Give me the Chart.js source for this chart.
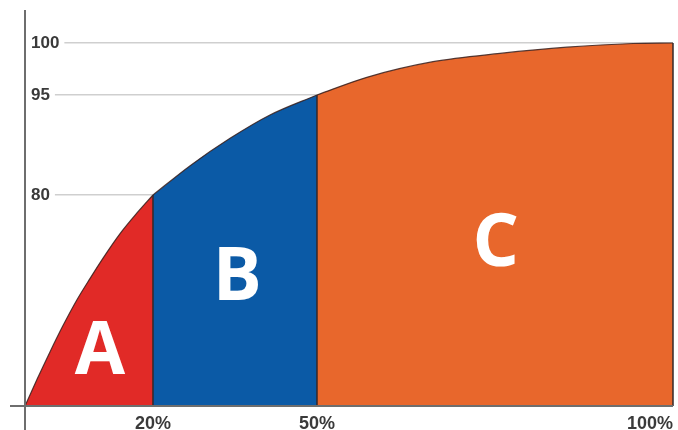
<!DOCTYPE html>
<html>
<head>
<meta charset="utf-8">
<script src="https://cdn.jsdelivr.net/npm/chart.js@4.4.1/dist/chart.umd.min.js"></script>
<style>
  html, body { margin: 0; padding: 0; background: #fff; }
  #wrap { width: 678px; height: 430px; }
</style>
</head>
<body>
<div id="wrap"><canvas id="abc"></canvas></div>
<script>
// curva ABC: % dos itens (x) vs % acumulado do valor (y)
const aX = [0, 1.9, 3.9, 5.9, 8.1, 10.2, 12.2, 14.8, 17.5, 20];
const aY = [0, 10.2, 20.5, 30.3, 40.2, 48.5, 56.1, 65.2, 73.2, 80];
const bX = [20, 26.8, 34.1, 41.4, 50];
const bY = [80, 84.4, 88.5, 92, 95];
const cX = [50, 57, 66.3, 75.7, 85.1, 94.4, 100];
const cY = [95, 96.7, 98.2, 99, 99.6, 99.95, 100];

const xTicks = [0, 20, 50, 100];
const yTicks = [80, 95, 100];
const classes = ['A', 'B', 'C'];

// o desenho original não tem eixos lineares: escala por trechos
const X_BREAKS = [[0, 0], [20, 0.1975], [50, 0.4506], [100, 1]];
const Y_BREAKS = [[0, 0], [80, 0.5328], [95, 0.7854], [100, 0.9167], [103.2, 1]];

class PiecewiseScale extends Chart.LinearScale {
  breaks() { return this.axis === 'x' ? X_BREAKS : Y_BREAKS; }
  getPixelForValue(value) {
    if (value === null || value === undefined || isNaN(value)) return NaN;
    const b = this.breaks();
    let i = 1;
    while (i < b.length - 1 && value > b[i][0]) i++;
    const [v0, f0] = b[i - 1], [v1, f1] = b[i];
    return this.getPixelForDecimal(f0 + (value - v0) / (v1 - v0) * (f1 - f0));
  }
  getValueForPixel(pixel) {
    const b = this.breaks();
    const d = this.getDecimalForPixel(pixel);
    let i = 1;
    while (i < b.length - 1 && d > b[i][1]) i++;
    const [v0, f0] = b[i - 1], [v1, f1] = b[i];
    return v0 + (d - f0) / (f1 - f0) * (v1 - v0);
  }
}
PiecewiseScale.id = 'piecewise';
PiecewiseScale.defaults = Chart.LinearScale.defaults;
Chart.register(PiecewiseScale);

const toPoints = (xs, ys) => xs.map((x, i) => ({ x, y: ys[i] }));

// divisórias, eixos e letras das classes
const abcDecor = {
  id: 'abcDecor',
  afterDatasetsDraw(chart) {
    const { ctx, chartArea, scales: { x, y } } = chart;
    ctx.save();

    ctx.strokeStyle = '#35282a';
    ctx.lineWidth = 1.5;
    [[aX, aY], [bX, bY], [cX, cY]].forEach(([xs, ys]) => {
      const px = x.getPixelForValue(xs[xs.length - 1]);
      ctx.beginPath();
      ctx.moveTo(px, y.getPixelForValue(0));
      ctx.lineTo(px, y.getPixelForValue(ys[ys.length - 1]));
      ctx.stroke();
    });

    ctx.strokeStyle = '#6e6e6e';
    ctx.lineWidth = 2;
    const x0 = x.getPixelForValue(0), y0 = y.getPixelForValue(0);
    ctx.beginPath();
    ctx.moveTo(x0, chartArea.top);
    ctx.lineTo(x0, chart.height);
    ctx.moveTo(10, y0);
    ctx.lineTo(chartArea.right, y0);
    ctx.stroke();

    const spots = [[11.7, 12.1], [35.4, 40.2], [75.1, 53.1]];
    ctx.fillStyle = '#ffffff';
    ctx.font = 'bold 73px "Open Sans"';
    ctx.textAlign = 'center';
    ctx.textBaseline = 'alphabetic';
    classes.forEach((c, i) => {
      ctx.fillText(c, x.getPixelForValue(spots[i][0]), y.getPixelForValue(spots[i][1]));
    });
    ctx.restore();
  }
};

const areaStyle = color => ({
  backgroundColor: color,
  borderColor: 'rgba(55,30,28,0.85)',
  borderWidth: 1.2,
  fill: 'origin',
  pointRadius: 0,
  cubicInterpolationMode: 'monotone'
});

new Chart(document.getElementById('abc'), {
  type: 'line',
  data: {
    datasets: [
      { label: classes[0], data: toPoints(aX, aY), ...areaStyle('#e12a27') },
      { label: classes[1], data: toPoints(bX, bY), ...areaStyle('#0b5aa6') },
      { label: classes[2], data: toPoints(cX, cY), ...areaStyle('#e8672c') }
    ]
  },
  options: {
    responsive: true,
    maintainAspectRatio: false,
    animation: false,
    layout: { padding: { left: 25, right: 5, top: 10, bottom: 0 } },
    plugins: { legend: { display: false }, tooltip: { enabled: false } },
    scales: {
      x: {
        type: 'piecewise',
        min: 0,
        max: 100,
        afterBuildTicks: s => { s.ticks = xTicks.map(v => ({ value: v })); },
        afterFit: s => { s.height = 24; s.paddingLeft = 0; s.paddingRight = 0; },
        grid: { display: false, drawTicks: false },
        border: { display: false },
        ticks: {
          align: 'inner',
          autoSkip: false,
          maxRotation: 0,
          padding: 7,
          color: '#3a3a3a',
          font: { family: 'Liberation Sans', weight: 'bold', size: 18 },
          callback: v => v === 0 ? '' : v + '%'
        }
      },
      y: {
        type: 'piecewise',
        min: 0,
        max: 103.2,
        afterBuildTicks: s => { s.ticks = yTicks.map(v => ({ value: v })); },
        afterFit: s => { s.width = 0; s.paddingTop = 0; s.paddingBottom = 0; },
        grid: { color: '#cfcfcf', lineWidth: 1.5, drawTicks: false },
        border: { display: false },
        ticks: {
          mirror: true,
          padding: 6,
          autoSkip: false,
          color: '#3a3a3a',
          font: { family: 'Liberation Sans', weight: 'bold', size: 17 },
          showLabelBackdrop: true,
          backdropColor: '#ffffff',
          backdropPadding: { top: 2, bottom: 2, left: 6, right: 5 }
        }
      }
    }
  },
  plugins: [abcDecor]
});
</script>
</body>
</html>
